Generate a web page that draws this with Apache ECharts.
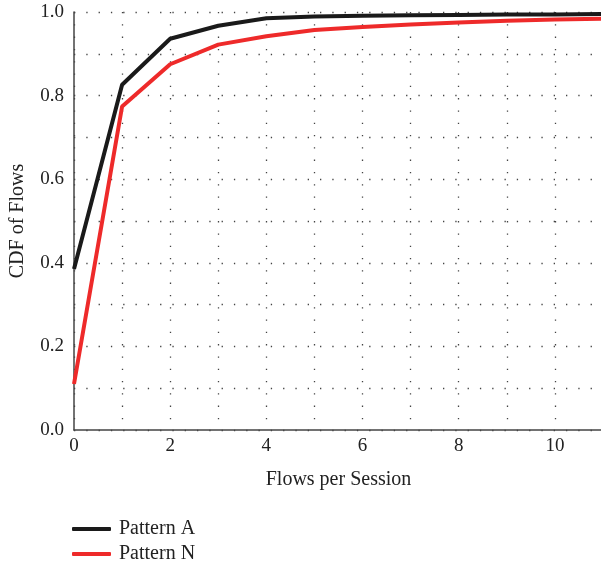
<!DOCTYPE html>
<html><head><meta charset="utf-8">
<script src="https://cdn.jsdelivr.net/npm/echarts@6/dist/echarts.min.js"></script>
<style>html,body{margin:0;padding:0;background:#fff}#c{width:601px;height:569px}</style>
</head><body><div id="c"></div>
<script>
const xValues = [0,1,2,3,4,5,6,7,8,9,10,11];
const patternA = [0.385,0.826,0.936,0.967,0.985,0.989,0.991,0.992,0.993,0.994,0.994,0.995];
const patternN = [0.11,0.774,0.875,0.922,0.942,0.957,0.964,0.970,0.975,0.979,0.982,0.984];
const seriesNames = ['Pattern A','Pattern N'];
const font = 'Liberation Serif';
const chart = echarts.init(document.getElementById('c'));
const dotted = {show:true,lineStyle:{color:'#444',type:[1.3,11],width:1.3}};
const legendText = {fontFamily:font,fontSize:20,color:'#222',padding:[0,0,0,3]};
chart.setOption({
  animation:false,
  textStyle:{fontFamily:font},
  grid:{left:74,top:12,width:529,height:418,containLabel:false,outerBoundsMode:'none'},
  legend:[
    {orient:'vertical',left:72,top:519,padding:0,itemWidth:39,itemHeight:4,
     textStyle:legendText,icon:'roundRect',data:[seriesNames[0]]},
    {orient:'vertical',left:72,top:544,padding:0,itemWidth:39,itemHeight:4,
     textStyle:legendText,icon:'roundRect',data:[seriesNames[1]]}
  ],
  xAxis:{type:'value',min:0,max:11,interval:1,
    name:'Flows per Session',nameLocation:'middle',nameGap:40,
    nameTextStyle:{fontFamily:font,fontSize:20,color:'#222'},
    axisLine:{show:true,lineStyle:{color:'#444',width:1.5}},
    axisTick:{show:false},
    axisLabel:{fontFamily:font,fontSize:19,color:'#222',margin:7,
      formatter:v=>v%2===0&&v<11?String(v):''},
    splitLine:dotted},
  yAxis:{type:'value',min:0,max:1,interval:0.1,
    name:'CDF of Flows',nameLocation:'middle',nameGap:46,
    nameTextStyle:{fontFamily:font,fontSize:20,color:'#222'},
    axisLine:{show:true,lineStyle:{color:'#444',width:1.5}},
    axisTick:{show:false},
    axisLabel:{fontFamily:font,fontSize:19,color:'#222',margin:10,
      formatter:v=>{const k=Math.round(v*10);return k%2===0?(k/10).toFixed(1):'';}},
    splitLine:dotted},
  series:[
    {name:seriesNames[0],type:'line',data:xValues.map((x,i)=>[x,patternA[i]]),
     showSymbol:false,lineStyle:{color:'#1a1a1a',width:4},itemStyle:{color:'#1a1a1a'}},
    {name:seriesNames[1],type:'line',data:xValues.map((x,i)=>[x,patternN[i]]),
     showSymbol:false,lineStyle:{color:'#ee2a2a',width:4},itemStyle:{color:'#ee2a2a'}}
  ]
});
</script></body></html>
